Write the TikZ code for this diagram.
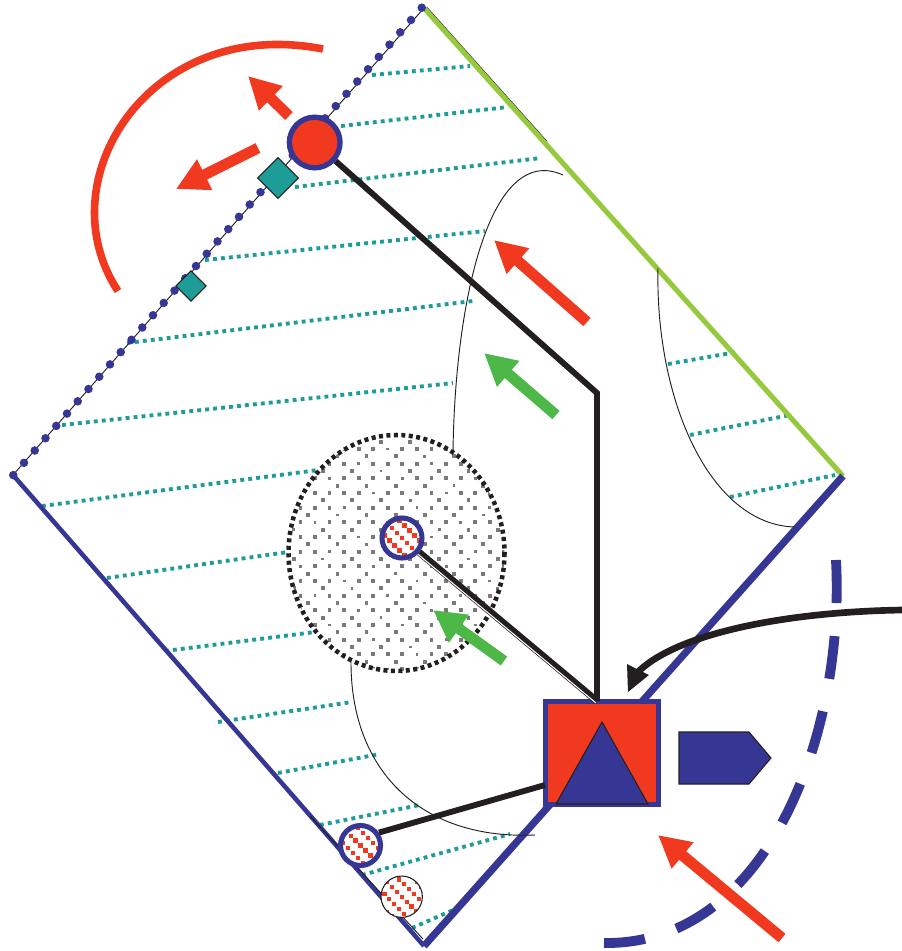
\documentclass[tikz,border=0pt]{standalone}
\usetikzlibrary{arrows.meta,calc,shapes.geometric}
\definecolor{warmred}{HTML}{F0391F}
\definecolor{deepblue}{HTML}{363795}
\definecolor{seateal}{HTML}{1D9C98}
\definecolor{leafgreen}{HTML}{4DB848}
\definecolor{limeedge}{HTML}{96C93D}
\definecolor{inkblack}{HTML}{231F20}
\tikzset{
	ruled/.style={dash pattern=on 2.9pt off 3.1pt, seateal, line width=2.9pt},
	thinink/.style={inkblack, line width=0.7pt},
	linkline/.style={inkblack, line width=4.4pt},
	fatarrow/.style={line width=8.2pt, -{Triangle[length=24pt,width=24pt]}},
	tealgem/.style={diamond, draw=inkblack, fill=seateal, line width=0.8pt, inner sep=0pt},
	hatchdisc/.style={circle, fill=white, inner sep=0pt, minimum size=#1, path picture={
		\foreach \k in {-3,...,3}
			\foreach \s in {-6,...,6}
				\fill[warmred] ($(path picture bounding box.center)+(\k*5.6pt+\s*3.7pt,\k*5.6pt-\s*3.7pt)+(-1.6pt,-1.6pt)$) rectangle ++(3.2pt,3.2pt);
	}},
}
\begin{document}
\begin{tikzpicture}[x=0.75pt, y=-0.75pt]
	\useasboundingbox (0,0) rectangle (902,951);
	% corners of the square
	\coordinate (apex) at (424,8);
	\coordinate (west) at (13,475);
	\coordinate (foot) at (424,946);
	\coordinate (east) at (843,476);
	\coordinate (elbow) at (597,393);
	\coordinate (hubtop) at (597,701);
	\coordinate (hubport) at (545,785);
	% stippled zone
	\begin{scope}
		\clip (396.5,553) ellipse (108 and 118);
		\foreach \r in {0,...,32} {
			\pgfmathsetmacro{\ry}{441.7+7.33*\r}
			\pgfmathtruncatemacro{\kind}{mod(\r,4)}
			\ifnum\kind=1 \def\xa{300.4}\def\xs{14.57}\fi
			\ifnum\kind=3 \def\xa{300.4}\def\xs{14.57}\fi
			\ifnum\kind=0 \def\xa{293.7}\def\xs{29.13}\fi
			\ifnum\kind=2 \def\xa{279.2}\def\xs{29.13}\fi
			\foreach \c in {0,...,16} {
				\pgfmathsetmacro{\side}{mod(\c+\r,5)==2 ? 1.4 : 1.9}
				\fill[black!52] ({\xa+\xs*\c-\side},{\ry-\side}) rectangle ++({2*\side},{2*\side});
			}
		}
	\end{scope}
	% ruled lines
	\draw[ruled] (372,75) -- (470,66);
	\draw[ruled] (341,126) -- (508,107);
	\draw[ruled] (295,187) -- (541,158);
	\draw[ruled] (205,260) -- (485,231);
	\draw[ruled] (127,343) -- (473,301);
	\draw[ruled] (62,425) -- (453,383);
	\draw[ruled] (42,506) -- (318,470);
	\draw[ruled] (107,578) -- (288,552);
	\draw[ruled] (165,651) -- (315,632);
	\draw[ruled] (218,722) -- (352,702);
	\draw[ruled] (278,773) -- (380,754);
	\draw[ruled] (320,825) -- (420,805);
	\draw[ruled] (362,875) -- (510,834);
	\draw[ruled] (412,928) -- (460,907);
	\draw[ruled] (668,364) -- (737,352);
	\draw[ruled] (690,435) -- (790,415);
	\draw[ruled] (730,497) -- (835,475);
	% outline
	\draw[thinink] (427,7.5) -- (547,141.5);
	\draw[limeedge, line width=3.8pt] (apex) -- (east);
	\draw[deepblue, line width=5.4pt] (east) -- (foot);
	\draw[deepblue, line width=3.4pt] (west) -- (foot);
	\draw[thinink] (310,816) -- (423,939);
	\draw[thinink] (west) -- (apex);
	\foreach \n in {-1,0,...,37}
		\fill[deepblue] ({411-10.75*\n},{20+12.3*\n}) circle (3.2pt);
	\draw[inkblack, line width=3.4pt, dash pattern=on 3pt off 2.6pt] (396.5,553) ellipse (108 and 118);
	% thin curves
	\draw[thinink] (453,452) .. controls (455,300) and (490,142) .. (563,175);
	\draw[thinink] (658,268) .. controls (655,400) and (710,525) .. (795,527);
	\draw[thinink] (351,660) .. controls (350,770) and (420,840) .. (535,835);
	% turning arc and dashed arc
	\draw[warmred, line width=5.7pt] (323,49) .. controls (150,15) and (45,180) .. (118,291);
	\draw[deepblue, line width=7.4pt, dash pattern=on 32.3pt off 24.8pt] (836,560) .. controls (845,730) and (770,945) .. (604,943);
	% nodes
	\node[hatchdisc=30pt, draw=deepblue, line width=3.8pt] (middisc) at (402,538) {};
	\node[hatchdisc=30pt, draw=deepblue, line width=3.8pt] (lowdisc) at (360.5,845.5) {};
	\node[hatchdisc=31pt, draw=inkblack, line width=0.8pt] (footdisc) at (401.7,896.7) {};
	\node[rectangle, draw=deepblue, fill=warmred, line width=3.8pt, minimum width=84.7pt, minimum height=77.2pt, inner sep=0pt] (hub) at (602,753) {};
	\node[circle, draw=deepblue, fill=warmred, line width=4pt, minimum size=38pt, inner sep=0pt] (redball) at (314.7,142.5) {};
	\node[tealgem, minimum size=31pt] (bigem) at (278,178) {};
	\node[tealgem, minimum size=23pt] (smallgem) at (191,286) {};
	% links
	\draw[linkline] (redball) -- (elbow) -- (hubtop);
	\draw[inkblack, line width=5.2pt] (middisc) -- (hubtop);
	\draw[white, line width=0.8pt] ([shift={(-1.05pt,-1.27pt)}]middisc.-40) -- ([shift={(-1.05pt,-1.27pt)}]hubtop);
	\draw[linkline] (lowdisc.35) -- (hubport);
	\draw[fill=deepblue, draw=inkblack, line width=0.8pt] (556,804) -- (602,722) -- (648,804) -- cycle;
	\draw[fill=deepblue, draw=inkblack, line width=0.8pt] (679,732) -- (749,732) -- (771,758) -- (749,784) -- (679,784) -- cycle;
	% arrows
	\draw[fatarrow, warmred] (289,116) -- (248,76);
	\draw[fatarrow, warmred] (258,148) -- (176,189);
	\draw[fatarrow, warmred] (587,322) -- (494,240);
	\draw[fatarrow, warmred] (782,938) -- (658,835);
	\draw[fatarrow, leafgreen] (556,415) -- (484,353);
	\draw[fatarrow, leafgreen] (504,661) -- (433,610);
	\draw[inkblack, line width=5pt] (902,610) .. controls (780,612) and (675,635) .. (638,672);
	\fill[inkblack] (627,664) -- (649,675) -- (628,692) -- cycle;
\end{tikzpicture}
\end{document}
